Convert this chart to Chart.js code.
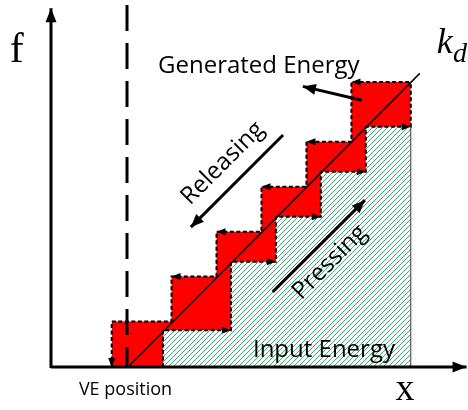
<!DOCTYPE html>
<html>
<head>
<meta charset="utf-8">
<script src="https://cdn.jsdelivr.net/npm/chart.js@4.4.0/dist/chart.umd.min.js"></script>
<style>
  html, body { margin: 0; padding: 0; background: #fff; }
</style>
</head>
<body>
<canvas id="myChart" width="468" height="410"></canvas>
<script>
// staircase corners (x = displacement, f = force, same units)
var releaseX = [1.35, 1.35, 2.68, 2.68, 3.68, 3.68, 4.68, 4.68, 5.68, 5.68, 6.68, 6.68, 8.0];
var releaseF = [0, 1.01, 1.01, 2.01, 2.01, 3.01, 3.01, 4.01, 4.01, 5.01, 5.01, 6.34, 6.34];
var pressX = [2.49, 2.49, 4.0, 4.0, 5.0, 5.0, 6.0, 6.0, 7.0, 7.0, 8.0, 8.0];
var pressF = [0, 0.82, 0.82, 2.34, 2.34, 3.34, 3.34, 4.34, 4.34, 5.34, 5.34, 6.34];
// stiffness line k_d
var kdX = [1.71, 8.2];
var kdF = [0, 6.53];
// VE position marker
var veX = 1.69;
// direction arrows (tail -> head)
var releasingX = [5.16, 3.11];
var releasingF = [5.16, 3.11];
var pressingX = [4.93, 6.98];
var pressingF = [1.67, 3.71];
var pointerX = [6.91, 5.6];
var pointerF = [5.93, 6.24];

var xMax = 9.25, fMax = 8.05;

function pts(xs, ys) {
  return xs.map(function(x, i) { return {x: x, y: ys[i]}; });
}

// crisp "/" hatch, one pixel per row
function hatch() {
  var n = 5;
  var c = document.createElement('canvas');
  c.width = n; c.height = n;
  var g = c.getContext('2d');
  g.fillStyle = '#fff';
  g.fillRect(0, 0, n, n);
  g.fillStyle = 'rgb(50,175,110)';
  for (var i = 0; i < n; i++) g.fillRect(i, n - 1 - i, 1, 1);
  return g.createPattern(c, 'repeat');
}

function drawHead(ctx, x0, y0, x1, y1, len, w) {
  var ang = Math.atan2(y1 - y0, x1 - x0);
  ctx.save();
  ctx.translate(x1, y1);
  ctx.rotate(ang);
  ctx.beginPath();
  ctx.moveTo(0, 0);
  ctx.lineTo(-len, w / 2);
  ctx.lineTo(-len, -w / 2);
  ctx.closePath();
  ctx.fillStyle = '#000';
  ctx.fill();
  ctx.restore();
}

// arrowheads sit on the library's own point positions
var arrowHeads = {
  id: 'arrowHeads',
  afterDatasetsDraw: function(chart) {
    var ctx = chart.ctx;
    chart.data.datasets.forEach(function(ds, i) {
      if (!ds.arrows) return;
      var p = chart.getDatasetMeta(i).data;
      ds.arrows.forEach(function(a) {
        drawHead(ctx, p[a[1]].x, p[a[1]].y, p[a[0]].x, p[a[0]].y, ds.head[0], ds.head[1]);
      });
    });
  }
};

var notes = [
  {t: 'f', x: -0.76, y: 6.78, font: '42px "Liberation Serif"', align: 'center'},
  {t: 'x', x: 7.87, y: -0.73, font: '38px "Liberation Serif"', align: 'center'},
  {t: 'k', x: 8.58, y: 6.98, font: 'italic 36px "Liberation Serif"', align: 'left'},
  {t: 'd', x: 8.94, y: 6.78, font: 'italic 28px "Liberation Serif"', align: 'left'},
  {t: 'Generated Energy', x: 2.38, y: 6.53, font: '24px "Open Sans"', align: 'left'},
  {t: 'Input Energy', x: 4.49, y: 0.22, font: '24px "Open Sans"', align: 'left'},
  {t: 'VE position', x: 0.62, y: -0.62, font: '18px "Open Sans"', align: 'left'},
  {t: 'Releasing', x: 3.82, y: 4.53, font: '24px "Open Sans"', align: 'center', rot: -45, mid: true},
  {t: 'Pressing', x: 6.2, y: 2.33, font: '24px "Open Sans"', align: 'center', rot: -45, mid: true}
];

var labels = {
  id: 'labels',
  afterDraw: function(chart) {
    var ctx = chart.ctx, sx = chart.scales.x, sy = chart.scales.y;
    notes.forEach(function(n) {
      ctx.save();
      ctx.translate(sx.getPixelForValue(n.x), sy.getPixelForValue(n.y));
      if (n.rot) ctx.rotate(n.rot * Math.PI / 180);
      ctx.font = n.font;
      ctx.fillStyle = '#000';
      ctx.textAlign = n.align;
      ctx.textBaseline = n.mid ? 'middle' : 'alphabetic';
      ctx.fillText(n.t, 0, 0);
      ctx.restore();
    });
  }
};

var ctx = document.getElementById('myChart');
var myChart = new Chart(ctx, {
  type: 'line',
  data: {
    datasets: [
      {
        label: 'Generated Energy',
        data: pts(releaseX, releaseF),
        borderColor: '#000', borderWidth: 2, borderDash: [4, 2.5],
        backgroundColor: '#ff0000', fill: 'origin', order: 10,
        arrows: [[0, 1], [3, 4], [5, 6], [7, 8], [9, 10], [11, 12]], head: [9, 7]
      },
      {
        label: 'Input Energy',
        data: pts(pressX, pressF),
        borderColor: '#000', borderWidth: 2, borderDash: [4, 2.5],
        backgroundColor: hatch(), fill: 'origin', order: 9,
        arrows: [[2, 1], [4, 3], [6, 5], [8, 7], [10, 9]], head: [9, 7]
      },
      {
        label: 'edge',
        data: pts([8.0, 8.0], [0, 5.34]),
        borderColor: '#444', borderWidth: 1, fill: false, order: 8
      },
      {
        label: 'k_d',
        data: pts(kdX, kdF),
        borderColor: '#000', borderWidth: 1.5, fill: false, order: 5
      },
      {
        label: 'VE position',
        data: pts([veX, veX], [fMax, 0]),
        borderColor: '#000', borderWidth: 3, borderDash: [26, 12], fill: false, order: 4
      },
      {
        label: 'Releasing',
        data: pts(releasingX, releasingF),
        borderColor: '#000', borderWidth: 3, fill: false, order: 3,
        arrows: [[1, 0]], head: [13, 11]
      },
      {
        label: 'Pressing',
        data: pts(pressingX, pressingF),
        borderColor: '#000', borderWidth: 3, fill: false, order: 3,
        arrows: [[1, 0]], head: [13, 11]
      },
      {
        label: 'pointer',
        data: pts(pointerX, pointerF),
        borderColor: '#000', borderWidth: 3, fill: false, order: 3,
        arrows: [[1, 0]], head: [13, 11]
      },
      {
        label: 'x axis',
        data: pts([0, 9.24], [0, 0]),
        borderColor: '#000', borderWidth: 3, fill: false, order: 1,
        arrows: [[1, 0]], head: [14, 11]
      },
      {
        label: 'f axis',
        data: pts([0, 0], [-0.02, 7.98]),
        borderColor: '#000', borderWidth: 3, fill: false, order: 1,
        arrows: [[1, 0]], head: [14, 11]
      }
    ]
  },
  options: {
    responsive: false,
    animation: false,
    clip: false,
    layout: { padding: { left: 51, right: 1, top: 5, bottom: 43 } },
    elements: {
      point: { radius: 0, hoverRadius: 0 },
      line: { tension: 0, borderCapStyle: 'butt' }
    },
    scales: {
      x: { type: 'linear', min: 0, max: xMax, display: false },
      y: { type: 'linear', min: 0, max: fMax, display: false }
    },
    plugins: {
      legend: { display: false },
      tooltip: { enabled: false }
    }
  },
  plugins: [arrowHeads, labels]
});
</script>
</body>
</html>
